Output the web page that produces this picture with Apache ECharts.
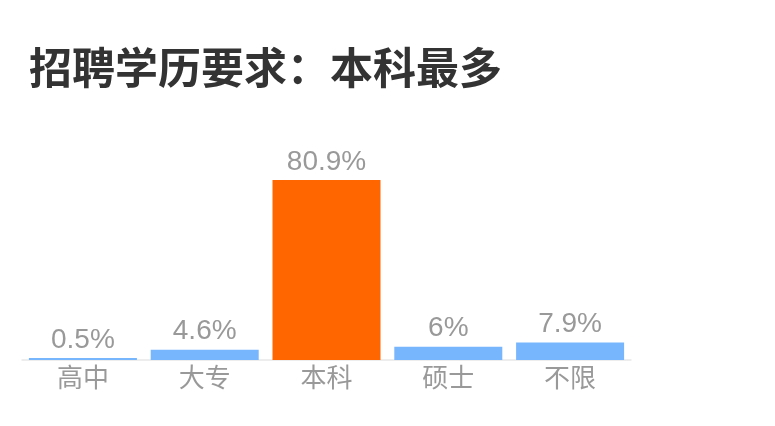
<!DOCTYPE html>
<html><head><meta charset="utf-8">
<script src="https://cdn.jsdelivr.net/npm/echarts@6/dist/echarts.min.js"></script>
<style>html,body{margin:0;padding:0;background:#fff}#c{width:775px;height:426px}</style>
</head><body><div id="c"></div>
<script>
const categories = ['高中', '大专', '本科', '硕士', '不限'];
const values = [0.5, 4.6, 80.9, 6, 7.9];
const highlightIndex = 2;
const chart = echarts.init(document.getElementById('c'));
chart.setOption({
  animation: false,
  title: {
    text: '招聘学历要求：本科最多',
    left: 24, top: 41,
    textStyle: { fontSize: 43, fontWeight: 'bold', color: '#333', fontFamily: 'Noto Sans CJK SC' }
  },
  grid: { left: 22, right: 144, top: 137.5, bottom: 66 },
  xAxis: {
    type: 'category', data: categories,
    offset: 1,
    axisLine: { lineStyle: { color: '#e8e8e8', width: 1.5 } },
    axisTick: { show: false },
    axisLabel: { fontSize: 26, color: '#999', margin: 3, fontFamily: 'Noto Sans CJK SC' }
  },
  yAxis: { type: 'value', min: 0, max: 100, show: false, splitLine: { show: false } },
  series: [{
    type: 'bar',
    barWidth: 108,
    barMinHeight: 2,
    z: 3,
    data: values.map((v, i) => ({ value: v, itemStyle: { color: i === highlightIndex ? '#ff6600' : '#77b5fd' } })),
    label: {
      show: true, position: 'top', distance: 4,
      formatter: p => p.value + '%',
      fontSize: 28, color: '#999', fontFamily: 'Liberation Sans'
    }
  }]
});
</script></body></html>
